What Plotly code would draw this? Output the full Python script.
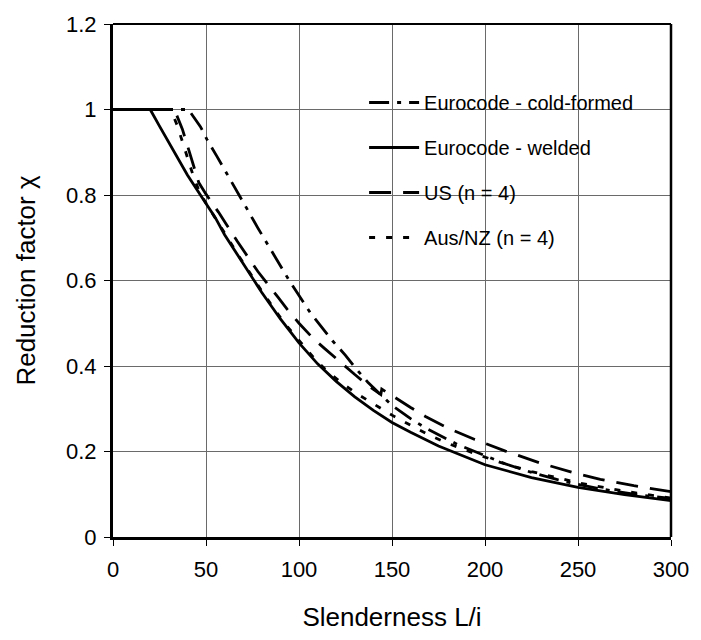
import plotly.graph_objects as go

# Eurocode - cold-formed
x_cf = [0, 40.5, 47, 50.5, 55.8, 63, 70.8, 78, 85.3, 95, 106, 112, 118, 125, 130, 137, 144,
        150, 160, 168, 185, 200, 211, 225, 239, 250, 263, 280, 300]
y_cf = [1, 1, 0.96, 0.93, 0.891, 0.835, 0.777, 0.722, 0.668, 0.598, 0.525, 0.492, 0.459, 0.425,
        0.397, 0.362, 0.333, 0.308, 0.277, 0.255, 0.217, 0.19, 0.171, 0.151, 0.134, 0.123, 0.112, 0.1, 0.09]

# Eurocode - welded
x_w = [0, 20, 25, 30, 35, 40, 47, 55, 60, 70, 80, 90, 100, 110, 120, 130, 140, 150, 160, 175,
       200, 225, 250, 275, 300]
y_w = [1, 1, 0.961, 0.922, 0.884, 0.847, 0.8, 0.747, 0.707, 0.638, 0.572, 0.51, 0.454, 0.405,
       0.364, 0.328, 0.296, 0.268, 0.245, 0.213, 0.169, 0.139, 0.116, 0.099, 0.085]

# US (n = 4)
x_us = [0, 33, 37.3, 40, 43.5, 46.1, 50, 56.7, 66.9, 77.9, 88.9, 93.8, 100, 107.5, 114, 122, 130,
        137, 144, 144.5, 150, 160, 168, 180, 194.5, 211, 229, 247, 262, 280, 300]
y_us = [1, 1, 0.954, 0.914, 0.864, 0.829, 0.802, 0.76, 0.691, 0.621, 0.56, 0.532, 0.5, 0.465,
        0.44, 0.409, 0.38, 0.355, 0.333, 0.346, 0.33, 0.303, 0.282, 0.255, 0.228, 0.201, 0.174,
        0.151, 0.135, 0.12, 0.106]

# Aus/NZ (n = 4)
x_a = [0, 31, 34.6, 37.3, 40.8, 43.5, 47, 52, 57, 62, 68, 74, 80, 86, 92, 100, 108.8, 115.9,
       123.9, 132.7, 141.2, 150, 160.6, 169.8, 180, 194.5, 210, 225, 250, 275, 300]
y_a = [1, 1, 0.962, 0.926, 0.878, 0.84, 0.802, 0.768, 0.734, 0.697, 0.655, 0.614, 0.575, 0.538,
       0.501, 0.46, 0.415, 0.385, 0.357, 0.331, 0.308, 0.285, 0.26, 0.239, 0.219, 0.195, 0.172,
       0.153, 0.127, 0.107, 0.091]

x_ticks = [0, 50, 100, 150, 200, 250, 300]
y_ticks = [0, 0.2, 0.4, 0.6, 0.8, 1, 1.2]
y_tick_text = ["0", "0.2", "0.4", "0.6", "0.8", "1", "1.2"]

FONT = "Liberation Sans, Arial, sans-serif"

fig = go.Figure()
series = [
    ("Eurocode - cold-formed", x_cf, y_cf, "20px,8px,4px,8px"),
    ("Eurocode - welded", x_w, y_w, "solid"),
    ("US (n = 4)", x_us, y_us, "22px,12px"),
    ("Aus/NZ (n = 4)", x_a, y_a, "6px,11px"),
]
for i, (name, xs, ys, dash) in enumerate(series):
    fig.add_trace(go.Scatter(
        x=xs, y=ys, mode="lines", name=name, legendgroup=f"g{i}",
        line=dict(color="black", width=2.8, dash=dash),
    ))

# white area behind the legend (hides gridlines)
fig.add_shape(type="rect", xref="paper", yref="paper", x0=0.41, x1=1.0, y0=0.545, y1=0.894,
              fillcolor="white", line=dict(width=0), layer="between")
# thinner top / right frame
fig.add_shape(type="line", xref="paper", yref="paper", x0=0, x1=1, y0=1, y1=1,
              line=dict(color="black", width=2))
fig.add_shape(type="line", xref="paper", yref="paper", x0=1, x1=1, y0=0, y1=1,
              line=dict(color="black", width=2.5))

axis_common = dict(
    showline=True, linecolor="black", linewidth=3, mirror=False,
    showgrid=True, gridcolor="#6a6a6a", gridwidth=1,
    ticks="outside", ticklen=6, tickcolor="black", tickwidth=1,
    tickfont=dict(family=FONT, size=22, color="black"),
    zeroline=False,
)

fig.update_layout(
    width=701, height=640,
    margin=dict(l=113, r=22, t=18, b=103),
    paper_bgcolor="white", plot_bgcolor="white",
    font=dict(family=FONT, color="black"),
    showlegend=True,
    legend=dict(
        x=0.45, y=0.885, xanchor="left", yanchor="top",
        bgcolor="rgba(255,255,255,0)", borderwidth=0,
        font=dict(family=FONT, size=20, color="black"),
        tracegroupgap=16, itemwidth=50,
    ),
    xaxis=dict(range=[0, 300], tickvals=x_ticks, ticklabelstandoff=5,
               title=dict(text="Slenderness L/i", font=dict(family=FONT, size=26), standoff=27),
               **axis_common),
    yaxis=dict(range=[0, 1.2], tickvals=y_ticks, ticktext=y_tick_text, ticklabelstandoff=3,
               title=dict(text="Reduction factor χ", font=dict(family=FONT, size=26), standoff=23),
               **axis_common),
)

fig.write_html("out.html", config={"displayModeBar": False},
               post_script="document.body.style.margin='0px';")
